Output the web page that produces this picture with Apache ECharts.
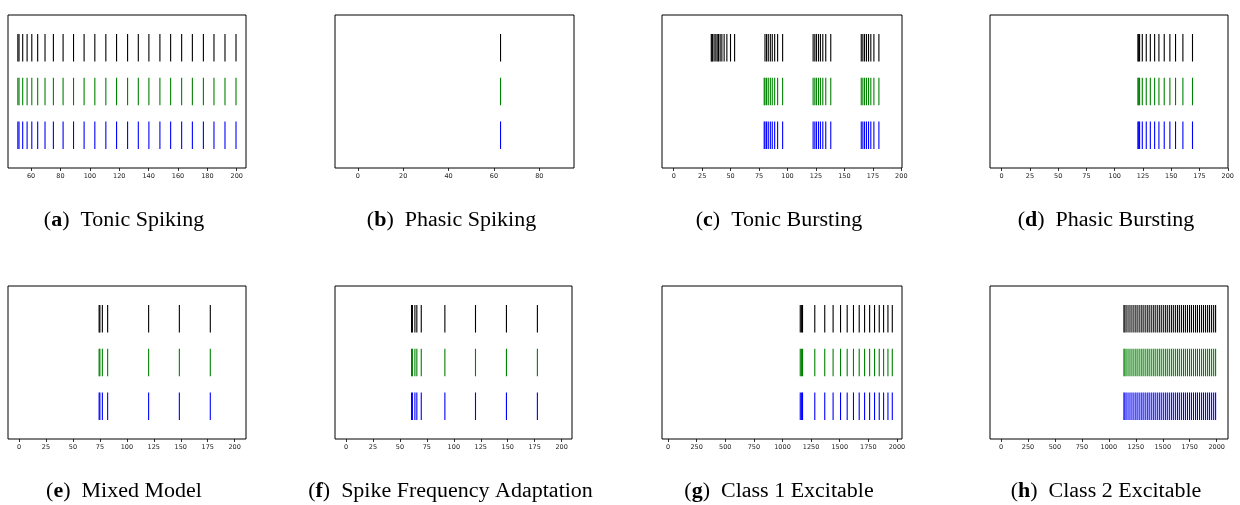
<!DOCTYPE html>
<html lang="en">
<head>
    <meta charset="UTF-8">
    <title>Spike rasters</title>
    <script src="https://cdn.jsdelivr.net/npm/echarts@6/dist/echarts.min.js"></script>
    <style>
        html, body { margin: 0; padding: 0; background: #fff; }
    </style>
</head>
<body>
<div id="box1" style="width: 1240px;height: 505px"></div>
<script>
    // spike times
    var tonicSpiking = [51.0, 51.8, 54.3, 57.3, 60.5, 64.5, 69.5, 75.2, 81.8, 88.9, 96.1, 103.4, 110.9, 118.2,
        125.7, 133.0, 140.2, 147.7, 155.0, 162.5, 169.8, 177.3, 184.5, 192.0, 199.5];
    var phasicSpiking = [62.9];
    var tonicBurstingBlack = [33.0, 33.6, 34.2, 35.5, 37.0, 38.2, 39.4, 40.8, 42.3, 44.3, 46.7, 49.9, 53.5,
        80.2, 81.6, 83.1, 84.9, 86.6, 88.7, 91.3, 95.7, 122.5, 124.0, 125.4, 127.2, 128.9, 131.0, 133.6, 138.0,
        164.8, 166.2, 167.7, 169.4, 171.2, 173.2, 175.9, 180.3];
    var tonicBurstingColor = [79.5, 80.2, 81.6, 83.1, 84.9, 86.6, 88.7, 91.3, 95.7, 122.5, 124.0, 125.4, 127.2,
        128.9, 131.0, 133.6, 138.0, 164.8, 166.2, 167.7, 169.4, 171.2, 173.2, 175.9, 180.3];
    var phasicBursting = [120.5, 121.2, 122.0, 124.4, 127.9, 131.5, 135.3, 139.1, 143.8, 148.8, 153.8, 160.3, 168.8];
    var mixedModel = [74.3, 75.0, 77.3, 82.2, 120.2, 148.7, 177.4];
    var spikeFreqAdaptation = [60.8, 61.6, 63.9, 65.7, 69.8, 91.7, 120.1, 148.8, 177.5];
    var class1Excitable = [1155, 1165, 1175, 1282, 1369, 1442, 1507, 1565, 1620, 1670, 1717, 1761, 1804,
        1845, 1883, 1921, 1959];
    var class2Excitable = [1140, 1150, 1168, 1187, 1206, 1225, 1244, 1262, 1281, 1300, 1318, 1337, 1356, 1374,
        1393, 1412, 1430, 1449, 1468, 1486, 1505, 1524, 1542, 1561, 1580, 1598, 1617, 1636, 1654, 1673, 1692,
        1710, 1729, 1748, 1766, 1785, 1804, 1822, 1841, 1860, 1878, 1897, 1916, 1934, 1953, 1972, 1990];

    // tick labels
    var ticksA = [60, 80, 100, 120, 140, 160, 180, 200];
    var ticksB = [0, 20, 40, 60, 80];
    var ticks200 = [0, 25, 50, 75, 100, 125, 150, 175, 200];
    var ticks2000 = [0, 250, 500, 750, 1000, 1250, 1500, 1750, 2000];

    var letters = ['a', 'b', 'c', 'd', 'e', 'f', 'g', 'h'];
    var captions = ['Tonic Spiking', 'Phasic Spiking', 'Tonic Bursting', 'Phasic Bursting',
        'Mixed Model', 'Spike Frequency Adaptation', 'Class 1 Excitable', 'Class 2 Excitable'];

    var rowColors = ['#000000', '#008000', '#0000ff'];

    var panels = [
        {l: 8, t: 15, w: 238, min: 44.3, max: 206.3, ticks: ticksA, rows: [tonicSpiking, tonicSpiking, tonicSpiking]},
        {l: 335, t: 15, w: 239, min: -10.1, max: 95.3, ticks: ticksB, rows: [phasicSpiking, phasicSpiking, phasicSpiking]},
        {l: 662, t: 15, w: 240, min: -10.3, max: 200.6, ticks: ticks200, rows: [tonicBurstingBlack, tonicBurstingColor, tonicBurstingColor]},
        {l: 990, t: 15, w: 238, min: -10.3, max: 200.2, ticks: ticks200, rows: [phasicBursting, phasicBursting, phasicBursting]},
        {l: 8, t: 286, w: 238, min: -10.2, max: 210.5, ticks: ticks200, rows: [mixedModel, mixedModel, mixedModel]},
        {l: 335, t: 286, w: 237, min: -10.2, max: 209.6, ticks: ticks200, rows: [spikeFreqAdaptation, spikeFreqAdaptation, spikeFreqAdaptation]},
        {l: 662, t: 286, w: 240, min: -52.5, max: 2043.8, ticks: ticks2000, rows: [class1Excitable, class1Excitable, class1Excitable]},
        {l: 990, t: 286, w: 238, min: -102, max: 2105, ticks: ticks2000, rows: [class2Excitable, class2Excitable, class2Excitable]}
    ];

    var grids = [], xAxes = [], yAxes = [], series = [], graphics = [];

    function renderSpike(params, api) {
        var x = api.value(0), r = api.value(1);
        var p1 = api.coord([x, r - 0.315]);
        var p2 = api.coord([x, r + 0.315]);
        return {
            type: 'line',
            shape: {x1: p1[0], y1: p1[1], x2: p2[0], y2: p2[1]},
            style: {stroke: api.visual('color'), lineWidth: 1.1}
        };
    }

    panels.forEach(function (p, i) {
        grids.push({
            left: p.l, top: p.t, width: p.w, height: 153,
            show: true, borderColor: '#000', borderWidth: 1, backgroundColor: '#fff'
        });
        xAxes.push({
            gridIndex: i, type: 'value', min: p.min, max: p.max, position: 'bottom',
            splitLine: {show: false},
            axisLine: {show: false, onZero: false},
            axisTick: {show: true, length: 3, customValues: p.ticks, lineStyle: {color: '#000', width: 0.8}},
            axisLabel: {
                customValues: p.ticks, margin: 5, fontSize: 6.5, color: '#222',
                fontFamily: 'DejaVu Sans',
                formatter: function (v) { return String(v); }
            }
        });
        yAxes.push({
            gridIndex: i, type: 'value', min: -0.75, max: 2.75,
            show: false, splitLine: {show: false}
        });
        p.rows.forEach(function (spikes, k) {
            var rowVal = 2 - k;
            series.push({
                type: 'custom', xAxisIndex: i, yAxisIndex: i,
                color: rowColors[k],
                renderItem: renderSpike,
                data: spikes.map(function (t) { return [t, rowVal]; }),
                silent: true
            });
        });
        graphics.push({
            type: 'text',
            x: p.l + p.w / 2 - 3,
            y: p.t + 206,
            scaleX: 1.1,
            style: {
                text: '{n|(}{b|' + letters[i] + '}{n|)}  ' + captions[i],
                align: 'center', verticalAlign: 'middle',
                fontFamily: 'Liberation Serif', fontSize: 20, fill: '#000',
                rich: {
                    n: {fontFamily: 'Liberation Serif', fontSize: 20, fill: '#000'},
                    b: {fontFamily: 'Liberation Serif', fontSize: 20, fontWeight: 'bold', fill: '#000'}
                }
            }
        });
    });

    var mychar = echarts.init(document.getElementById("box1"));
    mychar.setOption({
        animation: false,
        backgroundColor: '#fff',
        grid: grids,
        xAxis: xAxes,
        yAxis: yAxes,
        series: series,
        graphic: graphics
    });
</script>
</body>
</html>
